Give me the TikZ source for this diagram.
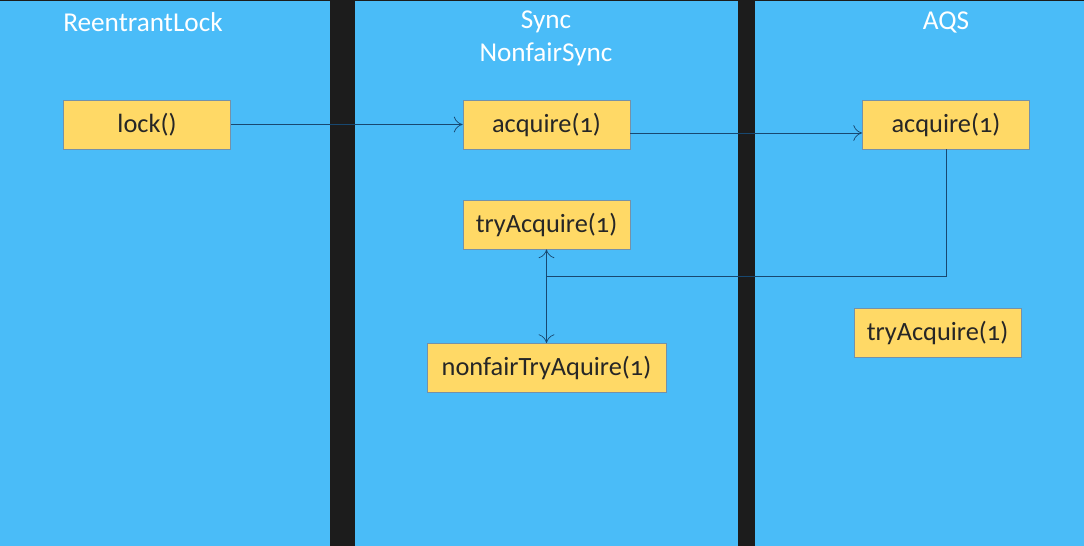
\documentclass[tikz,border=0pt]{standalone}
\usepackage{fontspec}
\setmainfont{Carlito}[Numbers=OldStyle]
\usetikzlibrary{positioning}
\usetikzlibrary{arrows.meta}
\definecolor{lane}{RGB}{74,188,248}
\definecolor{bar}{RGB}{28,28,28}
\definecolor{box}{RGB}{255,217,102}
\definecolor{wire}{RGB}{24,72,112}

\begin{document}
\begin{tikzpicture}[x=0.02cm, y=-0.02cm,
    method/.style={draw=wire!60, fill=box, text=black!85, minimum width=3.34cm, minimum height=0.98cm, inner sep=0pt, font=\fontsize{15}{18}\selectfont},
    title/.style={text=white, font=\fontsize{15.5}{18}\selectfont, inner sep=0pt},
    call/.style={draw=wire, thin, -{To[length=5pt,width=9pt]}}]
    % Hintergrund und die drei Spalten
    \useasboundingbox (0,0) rectangle (1084,546);
    \fill[bar] (0,0) rectangle (1084,546);
    \fill[lane] (0,1) rectangle (330,546);
    \fill[lane] (355,1) rectangle (738,546);
    \fill[lane] (755,1) rectangle (1084,546);

    % Spaltentitel
    \node[title] (tLock) at (143,22) {ReentrantLock};
    \node[title] (tSync) at (546,22) {Sync};
    \node[title] (tNonfair) at (546,54) {NonfairSync};
    \node[title] (tAqs) at (946,22) {AQS};

    % ReentrantLock
    \node[method] (lock) at (147,124.5) {lock()};

    % Sync / NonfairSync
    \node[method] (syncAcq) at (546.5,124.5) {acquire(1)};
    \node[method] (syncTry) at (546.5,224.5) {tryAcquire(1)};
    \node[method, minimum width=4.78cm] (nonfair) at (546.5,368) {nonfairTryAquire(1)};

    % AQS
    \node[method] (aqsAcq) at (946,124.5) {acquire(1)};
    \node[method] (aqsTry) at (937.5,332.5) {tryAcquire(1)};

    % Aufrufe
    \coordinate (bend) at (546.5,276);
    \draw[call] (lock) -- (syncAcq);
    \draw[call] (syncAcq.east |- 0,133) -- (aqsAcq.west |- 0,133);
    \draw[wire, thin] (aqsAcq.south) |- (bend);
    \draw[call] (bend) -- (syncTry.south);
    \draw[call] (bend) -- (nonfair.north);
\end{tikzpicture}
\end{document}
